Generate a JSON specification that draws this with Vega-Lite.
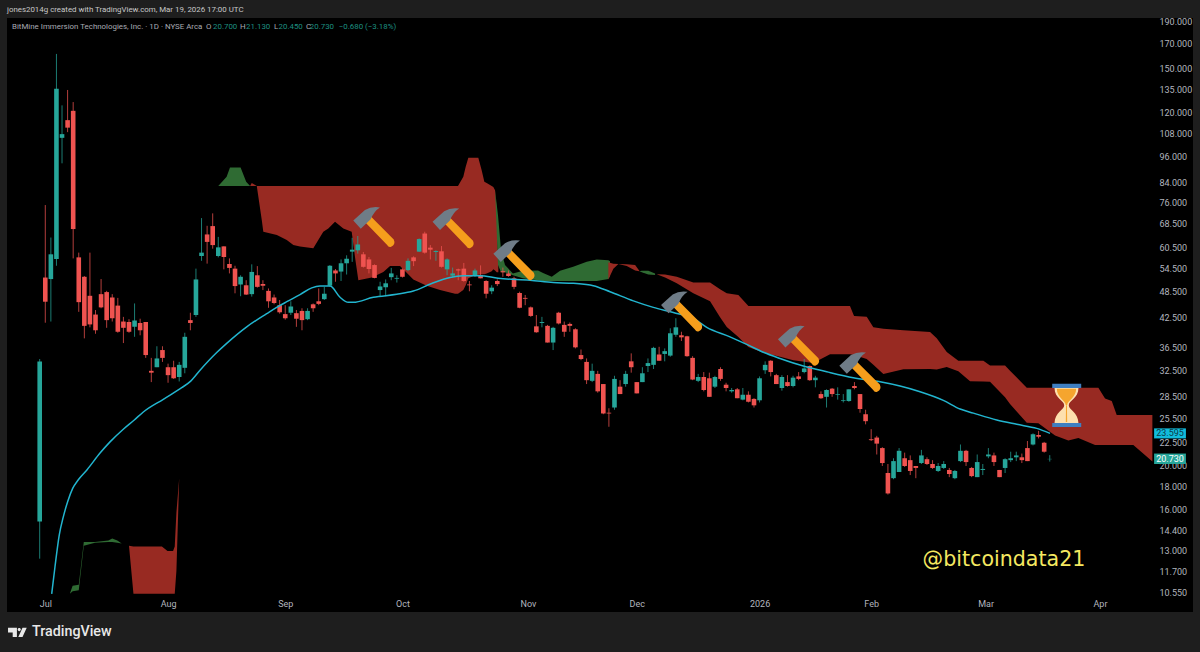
{
"$schema":"https://vega.github.io/schema/vega-lite/v6.json",
"autosize":{"type":"none"},
"width":1186,"height":594,
"padding":{"left":7,"top":18,"right":7,"bottom":40},
"background":"#1e1e1e",
"view":{"fill":"#000000","stroke":null},
"datasets":{
"candles":[
{"bar":0,"open":15.1,"high":34.4,"low":12.5,"close":33.95},
{"bar":1,"open":52.0,"high":75.1,"low":41.35,"close":46.0},
{"bar":2,"open":51.6,"high":63.7,"low":41.6,"close":58.5},
{"bar":3,"open":57.1,"high":161.6,"low":55.2,"close":135.5},
{"bar":4,"open":105.6,"high":124.5,"low":92.8,"close":107.6},
{"bar":5,"open":115.5,"high":134.6,"low":108.7,"close":111.2},
{"bar":6,"open":121.1,"high":126.6,"low":57.3,"close":66.5},
{"bar":7,"open":57.6,"high":59.0,"low":43.7,"close":45.9},
{"bar":8,"open":52.2,"high":52.4,"low":38.2,"close":40.7},
{"bar":9,"open":47.4,"high":59.0,"low":40.4,"close":41.0},
{"bar":10,"open":43.1,"high":44.1,"low":39.1,"close":39.8},
{"bar":11,"open":47.8,"high":51.6,"low":44.5,"close":44.7},
{"bar":12,"open":48.3,"high":48.6,"low":40.3,"close":41.9},
{"bar":13,"open":47.0,"high":47.8,"low":41.6,"close":42.3},
{"bar":14,"open":45.1,"high":46.9,"low":39.3,"close":39.5},
{"bar":15,"open":41.6,"high":42.6,"low":37.3,"close":40.3},
{"bar":16,"open":41.5,"high":42.1,"low":39.3,"close":39.5},
{"bar":17,"open":40.5,"high":45.6,"low":38.5,"close":41.8},
{"bar":18,"open":41.3,"high":42.2,"low":38.8,"close":39.8},
{"bar":19,"open":41.5,"high":41.5,"low":34.6,"close":35.1},
{"bar":20,"open":32.4,"high":34.6,"low":30.6,"close":32.1},
{"bar":21,"open":33.0,"high":36.7,"low":33.0,"close":34.5},
{"bar":22,"open":36.0,"high":36.7,"low":33.9,"close":34.6},
{"bar":23,"open":33.0,"high":33.6,"low":30.5,"close":31.7},
{"bar":24,"open":33.0,"high":34.1,"low":31.1,"close":31.2},
{"bar":25,"open":31.4,"high":33.9,"low":30.7,"close":33.4},
{"bar":26,"open":32.9,"high":39.3,"low":32.0,"close":38.5},
{"bar":27,"open":41.9,"high":43.5,"low":39.8,"close":41.3},
{"bar":28,"open":43.0,"high":54.4,"low":42.6,"close":51.5},
{"bar":29,"open":58.0,"high":70.3,"low":56.6,"close":59.0},
{"bar":30,"open":64.7,"high":67.6,"low":55.8,"close":62.3},
{"bar":31,"open":67.5,"high":72.0,"low":60.2,"close":61.3},
{"bar":32,"open":58.0,"high":63.9,"low":57.6,"close":60.6},
{"bar":33,"open":60.9,"high":60.9,"low":54.2,"close":57.7},
{"bar":34,"open":55.7,"high":57.3,"low":53.1,"close":54.6},
{"bar":35,"open":54.4,"high":55.2,"low":48.0,"close":49.8},
{"bar":36,"open":50.2,"high":52.6,"low":47.3,"close":52.2},
{"bar":37,"open":50.0,"high":51.3,"low":47.6,"close":47.7},
{"bar":38,"open":47.8,"high":55.6,"low":47.2,"close":53.5},
{"bar":39,"open":52.6,"high":55.1,"low":49.4,"close":49.6},
{"bar":40,"open":50.3,"high":51.3,"low":48.8,"close":49.9},
{"bar":41,"open":48.6,"high":49.2,"low":44.6,"close":46.1},
{"bar":42,"open":47.0,"high":47.7,"low":45.4,"close":45.7},
{"bar":43,"open":45.2,"high":46.4,"low":43.3,"close":43.6},
{"bar":44,"open":43.2,"high":45.2,"low":42.0,"close":42.3},
{"bar":45,"open":43.5,"high":46.1,"low":43.0,"close":44.9},
{"bar":46,"open":43.4,"high":44.1,"low":40.5,"close":42.2},
{"bar":47,"open":43.9,"high":44.5,"low":39.8,"close":41.9},
{"bar":48,"open":42.1,"high":44.5,"low":41.9,"close":43.9},
{"bar":49,"open":45.4,"high":45.6,"low":43.7,"close":44.5},
{"bar":50,"open":46.1,"high":49.2,"low":45.2,"close":45.5},
{"bar":51,"open":46.6,"high":49.6,"low":46.4,"close":47.9},
{"bar":52,"open":49.9,"high":55.4,"low":49.6,"close":55.2},
{"bar":53,"open":53.9,"high":54.3,"low":50.9,"close":53.1},
{"bar":54,"open":53.6,"high":57.0,"low":51.1,"close":55.9},
{"bar":55,"open":55.9,"high":58.2,"low":52.8,"close":57.2},
{"bar":56,"open":59.3,"high":63.6,"low":56.3,"close":59.9},
{"bar":57,"open":59.7,"high":64.2,"low":58.7,"close":61.5},
{"bar":58,"open":58.5,"high":59.2,"low":54.7,"close":54.9},
{"bar":59,"open":57.0,"high":57.7,"low":53.1,"close":54.3},
{"bar":60,"open":55.4,"high":55.6,"low":51.8,"close":51.9},
{"bar":61,"open":48.8,"high":50.9,"low":47.3,"close":49.7},
{"bar":62,"open":49.5,"high":51.5,"low":47.3,"close":50.5},
{"bar":63,"open":52.1,"high":54.6,"low":51.3,"close":53.1},
{"bar":64,"open":51.7,"high":52.6,"low":50.7,"close":51.9},
{"bar":65,"open":54.2,"high":54.5,"low":52.0,"close":52.2},
{"bar":66,"open":54.0,"high":57.3,"low":53.7,"close":56.6},
{"bar":67,"open":57.6,"high":57.9,"low":55.1,"close":56.5},
{"bar":68,"open":59.3,"high":63.4,"low":59.2,"close":63.2},
{"bar":69,"open":65.0,"high":65.6,"low":58.7,"close":59.0},
{"bar":70,"open":60.5,"high":61.3,"low":57.0,"close":59.9},
{"bar":71,"open":59.2,"high":59.7,"low":56.6,"close":59.5},
{"bar":72,"open":59.4,"high":61.0,"low":54.7,"close":54.9},
{"bar":73,"open":54.2,"high":57.3,"low":52.6,"close":57.0},
{"bar":74,"open":52.5,"high":54.7,"low":52.0,"close":53.1},
{"bar":75,"open":54.2,"high":54.4,"low":51.3,"close":53.9},
{"bar":76,"open":54.4,"high":56.0,"low":50.9,"close":51.1},
{"bar":77,"open":50.2,"high":51.1,"low":48.5,"close":50.0},
{"bar":78,"open":52.5,"high":54.4,"low":52.2,"close":53.9},
{"bar":79,"open":52.7,"high":55.3,"low":51.8,"close":51.8},
{"bar":80,"open":51.1,"high":51.3,"low":46.8,"close":47.9},
{"bar":81,"open":48.5,"high":50.0,"low":47.8,"close":49.4},
{"bar":82,"open":51.1,"high":51.5,"low":49.8,"close":50.3},
{"bar":83,"open":53.7,"high":54.7,"low":52.2,"close":53.4},
{"bar":84,"open":53.1,"high":53.9,"low":52.2,"close":52.4},
{"bar":85,"open":51.8,"high":52.2,"low":49.0,"close":49.6},
{"bar":86,"open":48.1,"high":48.4,"low":44.5,"close":44.6},
{"bar":87,"open":46.9,"high":47.6,"low":45.2,"close":46.7},
{"bar":88,"open":44.7,"high":44.9,"low":42.6,"close":42.8},
{"bar":89,"open":40.6,"high":43.0,"low":39.3,"close":39.4},
{"bar":90,"open":41.3,"high":42.6,"low":40.4,"close":41.5},
{"bar":91,"open":40.7,"high":40.9,"low":37.4,"close":37.4},
{"bar":92,"open":37.4,"high":40.5,"low":36.0,"close":40.3},
{"bar":93,"open":43.5,"high":43.7,"low":41.0,"close":41.2},
{"bar":94,"open":40.9,"high":41.6,"low":38.5,"close":39.5},
{"bar":95,"open":41.1,"high":41.4,"low":39.5,"close":40.7},
{"bar":96,"open":40.0,"high":40.2,"low":36.3,"close":36.5},
{"bar":97,"open":35.1,"high":36.1,"low":34.2,"close":34.4},
{"bar":98,"open":33.9,"high":34.5,"low":30.3,"close":30.9},
{"bar":99,"open":30.8,"high":33.6,"low":30.6,"close":32.4},
{"bar":100,"open":31.9,"high":32.4,"low":29.0,"close":29.2},
{"bar":101,"open":30.3,"high":30.3,"low":26.0,"close":26.1},
{"bar":102,"open":26.2,"high":26.8,"low":24.4,"close":26.1},
{"bar":103,"open":26.9,"high":31.6,"low":26.6,"close":31.1},
{"bar":104,"open":29.9,"high":30.9,"low":28.8,"close":28.8},
{"bar":105,"open":30.3,"high":32.4,"low":29.9,"close":31.9},
{"bar":106,"open":34.0,"high":35.4,"low":32.1,"close":33.0},
{"bar":107,"open":30.6,"high":30.6,"low":28.9,"close":28.9},
{"bar":108,"open":30.6,"high":33.0,"low":30.6,"close":32.0},
{"bar":109,"open":33.2,"high":34.5,"low":32.2,"close":33.7},
{"bar":110,"open":33.4,"high":36.6,"low":32.7,"close":36.4},
{"bar":111,"open":35.2,"high":36.6,"low":34.1,"close":34.1},
{"bar":112,"open":35.3,"high":36.3,"low":34.0,"close":35.8},
{"bar":113,"open":35.0,"high":40.2,"low":34.8,"close":39.2},
{"bar":114,"open":38.9,"high":42.3,"low":38.5,"close":40.4},
{"bar":115,"open":38.8,"high":39.5,"low":37.7,"close":38.4},
{"bar":116,"open":38.6,"high":38.7,"low":34.8,"close":34.9},
{"bar":117,"open":34.6,"high":34.9,"low":30.9,"close":31.0},
{"bar":118,"open":30.8,"high":31.9,"low":30.6,"close":31.4},
{"bar":119,"open":31.4,"high":32.2,"low":29.2,"close":29.4},
{"bar":120,"open":31.2,"high":32.1,"low":28.4,"close":28.4},
{"bar":121,"open":29.9,"high":31.6,"low":29.7,"close":31.4},
{"bar":122,"open":32.7,"high":33.0,"low":30.8,"close":31.1},
{"bar":123,"open":30.2,"high":30.5,"low":29.2,"close":29.7},
{"bar":124,"open":29.2,"high":29.7,"low":29.0,"close":29.4},
{"bar":125,"open":29.5,"high":29.7,"low":28.2,"close":28.2},
{"bar":126,"open":28.0,"high":29.7,"low":27.9,"close":28.7},
{"bar":127,"open":28.7,"high":29.2,"low":27.6,"close":27.7},
{"bar":128,"open":28.1,"high":28.2,"low":26.9,"close":27.2},
{"bar":129,"open":27.9,"high":31.5,"low":27.6,"close":31.2},
{"bar":130,"open":32.5,"high":34.0,"low":31.9,"close":33.4},
{"bar":131,"open":34.1,"high":34.2,"low":31.5,"close":32.2},
{"bar":132,"open":31.7,"high":31.9,"low":30.3,"close":30.3},
{"bar":133,"open":29.7,"high":31.7,"low":29.3,"close":31.4},
{"bar":134,"open":30.6,"high":31.7,"low":29.9,"close":30.0},
{"bar":135,"open":30.0,"high":31.6,"low":29.8,"close":31.3},
{"bar":136,"open":31.5,"high":32.2,"low":30.9,"close":31.1},
{"bar":137,"open":32.2,"high":34.4,"low":32.0,"close":32.8},
{"bar":138,"open":33.2,"high":33.3,"low":30.8,"close":30.9},
{"bar":139,"open":30.9,"high":31.6,"low":29.8,"close":31.3},
{"bar":140,"open":28.8,"high":29.2,"low":28.1,"close":28.2},
{"bar":141,"open":28.4,"high":29.5,"low":26.9,"close":29.4},
{"bar":142,"open":29.6,"high":29.7,"low":28.4,"close":28.8},
{"bar":143,"open":28.7,"high":29.8,"low":28.0,"close":28.8},
{"bar":144,"open":27.8,"high":28.8,"low":27.6,"close":27.9},
{"bar":145,"open":27.8,"high":29.5,"low":27.7,"close":29.5},
{"bar":146,"open":30.0,"high":30.6,"low":29.5,"close":29.7},
{"bar":147,"open":28.8,"high":28.8,"low":26.2,"close":26.7},
{"bar":148,"open":26.0,"high":26.6,"low":24.7,"close":25.1},
{"bar":149,"open":22.9,"high":24.1,"low":22.7,"close":22.8},
{"bar":150,"open":23.1,"high":23.3,"low":21.2,"close":22.4},
{"bar":151,"open":21.9,"high":22.0,"low":20.0,"close":20.3},
{"bar":152,"open":19.3,"high":20.2,"low":17.3,"close":17.4},
{"bar":153,"open":18.8,"high":20.8,"low":18.7,"close":20.5},
{"bar":154,"open":19.4,"high":21.9,"low":19.4,"close":21.6},
{"bar":155,"open":20.8,"high":21.4,"low":19.9,"close":20.0},
{"bar":156,"open":20.6,"high":21.1,"low":19.1,"close":19.5},
{"bar":157,"open":20.0,"high":20.0,"low":18.8,"close":19.8},
{"bar":158,"open":20.3,"high":21.7,"low":20.2,"close":21.1},
{"bar":159,"open":20.7,"high":20.9,"low":20.1,"close":20.2},
{"bar":160,"open":20.2,"high":20.6,"low":19.7,"close":19.8},
{"bar":161,"open":19.5,"high":20.3,"low":19.4,"close":20.0},
{"bar":162,"open":19.8,"high":20.5,"low":19.7,"close":20.2},
{"bar":163,"open":19.6,"high":19.8,"low":18.9,"close":19.2},
{"bar":164,"open":18.8,"high":19.6,"low":18.7,"close":19.5},
{"bar":165,"open":20.5,"high":22.3,"low":20.4,"close":21.6},
{"bar":166,"open":21.6,"high":21.7,"low":20.0,"close":20.4},
{"bar":167,"open":19.8,"high":19.9,"low":18.9,"close":19.0},
{"bar":168,"open":18.9,"high":21.2,"low":18.9,"close":20.4},
{"bar":169,"open":19.6,"high":20.2,"low":19.1,"close":19.7},
{"bar":170,"open":21.0,"high":21.9,"low":20.8,"close":21.2},
{"bar":171,"open":21.1,"high":21.4,"low":20.0,"close":20.4},
{"bar":172,"open":19.6,"high":19.6,"low":18.9,"close":18.9},
{"bar":173,"open":19.8,"high":20.8,"low":19.3,"close":20.7},
{"bar":174,"open":20.6,"high":21.5,"low":20.4,"close":20.8},
{"bar":175,"open":20.9,"high":21.5,"low":20.5,"close":21.1},
{"bar":176,"open":20.9,"high":21.3,"low":20.3,"close":20.6},
{"bar":177,"open":21.9,"high":22.7,"low":20.5,"close":20.5},
{"bar":178,"open":22.3,"high":23.6,"low":22.2,"close":23.5},
{"bar":179,"open":23.4,"high":23.9,"low":23.0,"close":23.2},
{"bar":180,"open":22.5,"high":22.6,"low":21.4,"close":21.5},
{"bar":181,"open":20.7,"high":21.13,"low":20.45,"close":20.73}
],
"cloud":[
{"seg":"a","kumo":"up","bar":5.4,"top":10.46,"bottom":10.46},
{"seg":"a","kumo":"up","bar":5.9,"top":10.9,"bottom":10.6},
{"seg":"a","kumo":"up","bar":7.0,"top":10.95,"bottom":10.65},
{"seg":"a","kumo":"up","bar":7.9,"top":13.6,"bottom":13.35},
{"seg":"a","kumo":"up","bar":9.9,"top":13.6,"bottom":13.55},
{"seg":"a","kumo":"up","bar":12.3,"top":13.7,"bottom":13.6},
{"seg":"a","kumo":"up","bar":13.0,"top":13.85,"bottom":13.6},
{"seg":"a","kumo":"up","bar":13.9,"top":13.7,"bottom":13.55},
{"seg":"a","kumo":"up","bar":14.7,"top":13.5,"bottom":13.5},
{"seg":"b","kumo":"down","bar":16.0,"top":13.35,"bottom":13.35},
{"seg":"b","kumo":"down","bar":16.8,"top":13.3,"bottom":10.46},
{"seg":"b","kumo":"down","bar":21.9,"top":13.3,"bottom":10.46},
{"seg":"b","kumo":"down","bar":22.9,"top":13.0,"bottom":10.46},
{"seg":"b","kumo":"down","bar":23.9,"top":13.0,"bottom":10.46},
{"seg":"b","kumo":"down","bar":24.2,"top":13.3,"bottom":10.46},
{"seg":"b","kumo":"down","bar":24.5,"top":15.8,"bottom":11.75},
{"seg":"b","kumo":"down","bar":25.0,"top":18.8,"bottom":18.8},
{"seg":"c","kumo":"up","bar":32.0,"top":82.7,"bottom":82.7},
{"seg":"c","kumo":"up","bar":33.5,"top":86.7,"bottom":82.7},
{"seg":"c","kumo":"up","bar":34.1,"top":90.9,"bottom":82.7},
{"seg":"c","kumo":"up","bar":36.0,"top":90.9,"bottom":82.7},
{"seg":"c","kumo":"up","bar":37.0,"top":84.5,"bottom":82.7},
{"seg":"c","kumo":"up","bar":37.7,"top":82.7,"bottom":82.7},
{"seg":"c2","kumo":"down","bar":37.7,"top":82.7,"bottom":82.7},
{"seg":"c2","kumo":"down","bar":38.0,"top":84.0,"bottom":82.7},
{"seg":"c2","kumo":"down","bar":38.9,"top":82.7,"bottom":82.7},
{"seg":"d","kumo":"down","bar":38.9,"top":82.7,"bottom":82.7},
{"seg":"d","kumo":"down","bar":39.8,"top":82.7,"bottom":69.5},
{"seg":"d","kumo":"down","bar":40.07,"top":82.7,"bottom":65.6},
{"seg":"d","kumo":"down","bar":42.5,"top":82.7,"bottom":64.5},
{"seg":"d","kumo":"down","bar":44.27,"top":82.7,"bottom":62.9},
{"seg":"d","kumo":"down","bar":45.45,"top":82.7,"bottom":61.3},
{"seg":"d","kumo":"down","bar":46.65,"top":82.7,"bottom":60.9},
{"seg":"d","kumo":"down","bar":49.03,"top":82.7,"bottom":60.3},
{"seg":"d","kumo":"down","bar":50.82,"top":82.7,"bottom":65.6},
{"seg":"d","kumo":"down","bar":51.72,"top":82.7,"bottom":66.7},
{"seg":"d","kumo":"down","bar":52.92,"top":82.7,"bottom":69.0},
{"seg":"d","kumo":"down","bar":54.41,"top":82.7,"bottom":66.7},
{"seg":"d","kumo":"down","bar":55.91,"top":82.7,"bottom":65.6},
{"seg":"d","kumo":"down","bar":56.5,"top":82.7,"bottom":57.7},
{"seg":"d","kumo":"down","bar":57.1,"top":82.7,"bottom":51.3},
{"seg":"d","kumo":"down","bar":59.5,"top":82.7,"bottom":52.0},
{"seg":"d","kumo":"down","bar":61.58,"top":82.7,"bottom":53.5},
{"seg":"d","kumo":"down","bar":62.78,"top":82.7,"bottom":55.1},
{"seg":"d","kumo":"down","bar":64.57,"top":82.7,"bottom":55.1},
{"seg":"d","kumo":"down","bar":66.95,"top":82.7,"bottom":51.5},
{"seg":"d","kumo":"down","bar":69.35,"top":82.7,"bottom":49.9},
{"seg":"d","kumo":"down","bar":71.74,"top":82.7,"bottom":48.8},
{"seg":"d","kumo":"down","bar":74.43,"top":82.7,"bottom":47.9},
{"seg":"d","kumo":"down","bar":74.96,"top":82.7,"bottom":47.9},
{"seg":"d","kumo":"down","bar":75.91,"top":86.7,"bottom":48.8},
{"seg":"d","kumo":"down","bar":76.34,"top":91.2,"bottom":50.0},
{"seg":"d","kumo":"down","bar":76.81,"top":95.5,"bottom":51.8},
{"seg":"d","kumo":"down","bar":78.0,"top":95.5,"bottom":52.6},
{"seg":"d","kumo":"down","bar":78.6,"top":95.5,"bottom":52.75},
{"seg":"d","kumo":"down","bar":79.2,"top":89.6,"bottom":52.9},
{"seg":"d","kumo":"down","bar":79.68,"top":84.5,"bottom":52.9},
{"seg":"d","kumo":"down","bar":80.1,"top":84.0,"bottom":53.1},
{"seg":"d","kumo":"down","bar":81.0,"top":82.7,"bottom":53.7},
{"seg":"d","kumo":"down","bar":81.29,"top":82.3,"bottom":54.2},
{"seg":"d","kumo":"down","bar":81.6,"top":81.0,"bottom":53.9},
{"seg":"d","kumo":"down","bar":81.9,"top":73.1,"bottom":53.4},
{"seg":"d","kumo":"down","bar":82.08,"top":59.7,"bottom":53.4},
{"seg":"d","kumo":"down","bar":82.19,"top":54.5,"bottom":53.4},
{"seg":"e","kumo":"up","bar":81.6,"top":81.0,"bottom":81.0},
{"seg":"e","kumo":"up","bar":82.13,"top":71.2,"bottom":55.4},
{"seg":"e","kumo":"up","bar":82.67,"top":59.7,"bottom":53.4},
{"seg":"e","kumo":"up","bar":83.38,"top":55.4,"bottom":53.4},
{"seg":"e","kumo":"up","bar":84.8,"top":53.1,"bottom":52.6},
{"seg":"e","kumo":"up","bar":86.6,"top":53.8,"bottom":51.8},
{"seg":"e","kumo":"up","bar":89.3,"top":53.9,"bottom":51.3},
{"seg":"e","kumo":"up","bar":90.2,"top":53.2,"bottom":51.1},
{"seg":"e","kumo":"up","bar":91.76,"top":52.2,"bottom":51.1},
{"seg":"e","kumo":"up","bar":93.25,"top":53.8,"bottom":51.1},
{"seg":"e","kumo":"up","bar":95.6,"top":54.9,"bottom":51.1},
{"seg":"e","kumo":"up","bar":98.03,"top":56.3,"bottom":51.1},
{"seg":"e","kumo":"up","bar":99.82,"top":57.0,"bottom":51.1},
{"seg":"e","kumo":"up","bar":101.9,"top":56.8,"bottom":51.6},
{"seg":"e","kumo":"up","bar":102.2,"top":56.5,"bottom":52.4},
{"seg":"f","kumo":"down","bar":101.9,"top":56.2,"bottom":51.5},
{"seg":"f","kumo":"down","bar":102.8,"top":55.8,"bottom":54.4},
{"seg":"f","kumo":"down","bar":103.7,"top":55.7,"bottom":55.7},
{"seg":"f","kumo":"down","bar":105.2,"top":55.6,"bottom":55.1},
{"seg":"f","kumo":"down","bar":106.7,"top":55.4,"bottom":53.9},
{"seg":"f","kumo":"down","bar":107.45,"top":53.8,"bottom":53.7},
{"seg":"h","kumo":"up","bar":107.45,"top":53.7,"bottom":53.7},
{"seg":"h","kumo":"up","bar":107.9,"top":53.8,"bottom":53.4},
{"seg":"h","kumo":"up","bar":109.07,"top":53.8,"bottom":52.8},
{"seg":"h","kumo":"up","bar":110.27,"top":53.1,"bottom":52.7},
{"seg":"g","kumo":"down","bar":110.57,"top":52.9,"bottom":52.9},
{"seg":"g","kumo":"down","bar":112.07,"top":52.8,"bottom":52.0},
{"seg":"g","kumo":"down","bar":114.16,"top":52.2,"bottom":50.5},
{"seg":"g","kumo":"down","bar":117.13,"top":50.7,"bottom":48.0},
{"seg":"g","kumo":"down","bar":120.13,"top":50.7,"bottom":46.1},
{"seg":"g","kumo":"down","bar":121.92,"top":49.0,"bottom":42.5},
{"seg":"g","kumo":"down","bar":123.12,"top":48.0,"bottom":40.45},
{"seg":"g","kumo":"down","bar":125.2,"top":47.6,"bottom":38.45},
{"seg":"g","kumo":"down","bar":127.0,"top":45.0,"bottom":36.55},
{"seg":"g","kumo":"down","bar":129.68,"top":45.0,"bottom":35.5},
{"seg":"g","kumo":"down","bar":132.67,"top":45.0,"bottom":34.8},
{"seg":"g","kumo":"down","bar":135.05,"top":45.0,"bottom":34.2},
{"seg":"g","kumo":"down","bar":138.64,"top":45.0,"bottom":33.7},
{"seg":"g","kumo":"down","bar":141.63,"top":45.0,"bottom":35.25},
{"seg":"g","kumo":"down","bar":145.2,"top":45.0,"bottom":35.25},
{"seg":"g","kumo":"down","bar":145.93,"top":42.8,"bottom":35.1},
{"seg":"g","kumo":"down","bar":148.2,"top":42.6,"bottom":34.4},
{"seg":"g","kumo":"down","bar":149.39,"top":40.4,"bottom":33.4},
{"seg":"g","kumo":"down","bar":151.18,"top":40.1,"bottom":31.9},
{"seg":"g","kumo":"down","bar":154.77,"top":39.8,"bottom":32.65},
{"seg":"g","kumo":"down","bar":159.55,"top":39.45,"bottom":32.7},
{"seg":"g","kumo":"down","bar":160.75,"top":38.2,"bottom":32.6},
{"seg":"g","kumo":"down","bar":162.54,"top":35.65,"bottom":33.05},
{"seg":"g","kumo":"down","bar":164.62,"top":34.1,"bottom":32.35},
{"seg":"g","kumo":"down","bar":166.72,"top":34.1,"bottom":30.75},
{"seg":"g","kumo":"down","bar":169.1,"top":34.1,"bottom":30.7},
{"seg":"g","kumo":"down","bar":170.3,"top":33.3,"bottom":30.65},
{"seg":"g","kumo":"down","bar":172.99,"top":33.3,"bottom":28.35},
{"seg":"g","kumo":"down","bar":173.88,"top":32.4,"bottom":27.4},
{"seg":"g","kumo":"down","bar":176.88,"top":29.75,"bottom":24.9},
{"seg":"g","kumo":"down","bar":178.96,"top":29.75,"bottom":24.85},
{"seg":"g","kumo":"down","bar":181.95,"top":29.75,"bottom":23.35},
{"seg":"g","kumo":"down","bar":184.33,"top":29.75,"bottom":22.75},
{"seg":"g","kumo":"down","bar":186.13,"top":29.75,"bottom":23.05},
{"seg":"g","kumo":"down","bar":189.12,"top":29.75,"bottom":22.25},
{"seg":"g","kumo":"down","bar":189.71,"top":29.75,"bottom":22.25},
{"seg":"g","kumo":"down","bar":190.91,"top":28.15,"bottom":22.25},
{"seg":"g","kumo":"down","bar":192.11,"top":27.8,"bottom":22.25},
{"seg":"g","kumo":"down","bar":193.0,"top":25.9,"bottom":22.25},
{"seg":"g","kumo":"down","bar":195.98,"top":25.9,"bottom":22.25},
{"seg":"g","kumo":"down","bar":199.39,"top":25.9,"bottom":20.45}
],
"ma":[
{"bar":2.15,"price":10.46},{"bar":2.74,"price":12.0},{"bar":3.51,"price":14.1},{"bar":4.23,"price":15.45},
{"bar":5.02,"price":16.7},{"bar":5.91,"price":17.85},{"bar":6.92,"price":18.65},{"bar":8.53,"price":19.65},
{"bar":10.81,"price":21.35},{"bar":12.6,"price":22.6},{"bar":14.98,"price":24.1},{"bar":16.95,"price":25.25},
{"bar":18.57,"price":26.3},{"bar":22.15,"price":28.05},{"bar":25.45,"price":29.75},{"bar":27.06,"price":30.75},
{"bar":28.73,"price":32.5},{"bar":31.72,"price":35.55},{"bar":33.51,"price":37.25},{"bar":37.1,"price":40.5},
{"bar":40.68,"price":43.3},{"bar":42.47,"price":44.7},{"bar":44.27,"price":46.0},{"bar":46.65,"price":47.7},
{"bar":48.75,"price":49.35},{"bar":50.23,"price":49.8},{"bar":52.03,"price":49.8},{"bar":53.82,"price":47.05},
{"bar":55.3,"price":45.85},{"bar":56.2,"price":45.85},{"bar":59.78,"price":47.05},{"bar":63.98,"price":47.75},
{"bar":66.95,"price":48.55},{"bar":70.25,"price":50.45},{"bar":73.53,"price":52.0},{"bar":75.91,"price":52.45},
{"bar":78.91,"price":52.5},{"bar":82.13,"price":51.8},{"bar":87.87,"price":51.3},{"bar":92.04,"price":50.7},
{"bar":95.63,"price":50.5},{"bar":99.2,"price":49.9},{"bar":102.2,"price":48.4},{"bar":106.38,"price":46.2},
{"bar":109.96,"price":44.7},{"bar":113.55,"price":43.55},{"bar":117.13,"price":42.25},{"bar":119.53,"price":40.4},
{"bar":123.7,"price":38.5},{"bar":126.7,"price":37.05},{"bar":129.68,"price":35.6},{"bar":132.67,"price":34.5},
{"bar":136.85,"price":33.2},{"bar":141.04,"price":32.25},{"bar":145.8,"price":31.3},{"bar":150.6,"price":30.65},
{"bar":154.17,"price":30.0},{"bar":157.76,"price":29.15},{"bar":161.93,"price":27.9},{"bar":164.93,"price":26.7},
{"bar":167.31,"price":26.15},{"bar":171.5,"price":25.25},{"bar":175.09,"price":24.7},{"bar":178.67,"price":24.2},
{"bar":181.05,"price":23.6}
],
"hammers":[
{"bar":59.9,"price":67.2},{"bar":74.1,"price":66.8},{"bar":85.0,"price":56.8},
{"bar":115.05,"price":43.8},{"bar":136.0,"price":36.8},{"bar":147.0,"price":32.2}
],
"hourglass":[{"bar":184.0,"price":27.2}],
"logo":[{"bar":-4.0,"price":8.6}],
"head":[
{"text":"jones2014g created with TradingView.com, Mar 19, 2026 17:00 UTC","bar":-5.86,"price":201.9}
],
"legendGrey":[
{"text":"BitMine Immersion Technologies, Inc. · 1D · NYSE Arca","bar":-4.96,"price":185.3},
{"text":"O","bar":29.8,"price":185.3},
{"text":"H","bar":35.9,"price":185.3},
{"text":"L","bar":42.0,"price":185.3},
{"text":"C","bar":47.7,"price":185.3}
],
"legendTeal":[
{"text":"20.700","bar":31.06,"price":185.3},
{"text":"21.130","bar":36.97,"price":185.3},
{"text":"20.450","bar":42.8,"price":185.3},
{"text":"20.730","bar":48.4,"price":185.3},
{"text":"−0.680","bar":53.6,"price":185.3},
{"text":"(−3.18%)","bar":58.3,"price":185.3}
],
"tags":[
{"text":"23.595","kind":"ma","bar":199.7,"bar2":205.4,"mid":202.55,"lo":23.0,"hi":24.2,"price":23.595},
{"text":"20.730","kind":"last","bar":199.7,"bar2":205.4,"mid":202.55,"lo":20.2,"hi":21.3,"price":20.73}
]
},
"encoding":{
"x":{"field":"bar","type":"quantitative","title":null,
"scale":{"domain":[-5.86,206.67],"nice":false,"zero":false,"padding":0},
"axis":{"values":[1,23,44,65,87.5,107,129,149,169.5,190],
"labelExpr":"['Jul','Aug','Sep','Oct','Nov','Dec','2026','Feb','Mar','Apr'][indexof([1,23,44,65,87.5,107,129,149,169.5,190],datum.value)]",
"domain":false,"ticks":false,"grid":false,"offset":-9,"labelPadding":0,"labelBaseline":"middle","labelColor":"#b2b5be","labelFont":"Roboto","labelFontSize":9,"labelOverlap":false,"labelFlush":false}}
},
"layer":[
{"data":{"name":"cloud"},"mark":{"type":"area","opacity":1},
"encoding":{
"y":{"field":"top","type":"quantitative","title":null,
"scale":{"type":"log","domain":[9.538,193.89],"nice":false,"zero":false,"padding":0},
"axis":{"orient":"right","offset":-34,"values":[190,170,150,135,120,108,96,84,76,68.5,60.5,54.5,48.5,42.5,36.5,32.5,28.5,25.5,22.5,20,18,16,14.4,13,11.7,10.55],
"format":".3f","domain":false,"ticks":false,"grid":false,"labelPadding":0,"labelAlign":"left","labelColor":"#b2b5be","labelFont":"Roboto","labelFontSize":9,"labelOverlap":false,"labelFlush":false}},
"y2":{"field":"bottom"},
"detail":{"field":"seg"},
"color":{"field":"kumo","type":"nominal","legend":null,"scale":{"domain":["up","down"],"range":["#2f6b33","#982a22"]}}}},
{"data":{"name":"candles"},"mark":{"type":"rule","strokeWidth":1,"opacity":0.75},
"encoding":{
"y":{"field":"low","type":"quantitative"},"y2":{"field":"high"},
"color":{"condition":{"test":"datum.close>=datum.open","value":"#26a69a"},"value":"#ef5350"}}},
{"data":{"name":"candles"},"mark":{"type":"bar","size":4.6,"orient":"vertical"},
"encoding":{
"y":{"field":"open","type":"quantitative"},"y2":{"field":"close"},
"color":{"condition":{"test":"datum.close>=datum.open","value":"#26a69a"},"value":"#ef5350"}}},
{"data":{"name":"ma"},"mark":{"type":"line","color":"#22b5cf","strokeWidth":1.5,"interpolate":"monotone"},
"encoding":{"y":{"field":"price","type":"quantitative"}}},
{"data":{"name":"hammers"},"mark":{"type":"point","filled":true,"opacity":1,"size":1936,"color":"#f59e1c",
"shape":"M-0.4,-0.22 L-0.13,-0.46 L0.9,0.57 Q1,0.8 0.78,0.9 Q0.66,0.94 0.6,0.82 Z"},
"encoding":{"y":{"field":"price","type":"quantitative"}}},
{"data":{"name":"hammers"},"mark":{"type":"point","filled":true,"opacity":1,"size":1936,"color":"#6f7c87",
"shape":"M-0.94,-0.29 L-0.41,-0.77 Q-0.11,-0.95 0.27,-0.89 Q0,-0.72 -0.15,-0.35 L-0.6,0.08 Z"},
"encoding":{"y":{"field":"price","type":"quantitative"}}},
{"data":{"name":"hourglass"},"mark":{"type":"point","filled":true,"opacity":1,"size":2116,"color":"#fde0ae",
"shape":"M-0.52,-0.75 L0.52,-0.75 C0.52,-0.3 0.1,-0.2 0.1,0 C0.1,0.2 0.5,0.3 0.52,0.77 L-0.52,0.77 C-0.5,0.3 -0.1,0.2 -0.1,0 C-0.1,-0.2 -0.52,-0.3 -0.52,-0.75 Z"},
"encoding":{"y":{"field":"price","type":"quantitative"}}},
{"data":{"name":"hourglass"},"mark":{"type":"point","filled":true,"opacity":1,"size":2116,"color":"#f5a52e",
"shape":"M-0.42,-0.72 L0.42,-0.72 C0.42,-0.35 0.05,-0.2 0.03,-0.02 L-0.03,-0.02 C-0.05,-0.2 -0.42,-0.35 -0.42,-0.72 Z M-0.02,0 L0.02,0 L0.03,0.72 L-0.03,0.72 Z"},
"encoding":{"y":{"field":"price","type":"quantitative"}}},
{"data":{"name":"hourglass"},"mark":{"type":"point","filled":true,"opacity":1,"size":2116,"color":"#3f7fc1",
"shape":"M-0.62,-0.94 L0.64,-0.94 L0.64,-0.75 L-0.62,-0.75 Z M-0.62,0.77 L0.64,0.77 L0.64,0.94 L-0.62,0.94 Z"},
"encoding":{"y":{"field":"price","type":"quantitative"}}},
{"data":{"name":"tags"},"mark":{"type":"rect"},
"encoding":{
"x":{"field":"bar","type":"quantitative"},"x2":{"field":"bar2"},
"y":{"field":"lo","type":"quantitative"},"y2":{"field":"hi"},
"color":{"condition":{"test":"datum.kind=='ma'","value":"#11bcdc"},"value":"#26a69a"}}},
{"data":{"name":"tags"},"mark":{"type":"text","font":"Roboto","fontSize":9,"align":"center","baseline":"middle"},
"encoding":{
"x":{"field":"mid","type":"quantitative"},
"y":{"field":"price","type":"quantitative"},
"text":{"field":"text"},
"color":{"condition":{"test":"datum.kind=='ma'","value":"#0c3a46"},"value":"#ffffff"}}},
{"data":{"name":"head"},"mark":{"type":"text","font":"Roboto","fontSize":7.9,"align":"left","baseline":"middle","color":"#c8c8c8"},
"encoding":{"y":{"field":"price","type":"quantitative"},"text":{"field":"text"}}},
{"data":{"name":"legendGrey"},"mark":{"type":"text","font":"Roboto","fontSize":7.9,"align":"left","baseline":"middle","color":"#a8abb3"},
"encoding":{"y":{"field":"price","type":"quantitative"},"text":{"field":"text"}}},
{"data":{"name":"legendTeal"},"mark":{"type":"text","font":"Roboto","fontSize":7.9,"align":"left","baseline":"middle","color":"#1d8f80"},
"encoding":{"y":{"field":"price","type":"quantitative"},"text":{"field":"text"}}},
{"data":{"values":[{"text":"@bitcoindata21","bar":172.8,"price":12.4}]},"mark":{"type":"text","font":"DejaVu Sans","fontSize":20.6,"align":"center","baseline":"middle","color":"#f5e960"},
"encoding":{"y":{"field":"price","type":"quantitative"},"text":{"field":"text"}}},
{"data":{"name":"logo"},"mark":{"type":"point","filled":true,"opacity":1,"size":350,"color":"#e8e8e8",
"shape":"M-1,-0.5 L-0.05,-0.5 L-0.05,0.5 L-0.5,0.5 L-0.5,0 L-1,0 Z M0.03,-0.3 A0.17,0.17 0 1 1 0.37,-0.3 A0.17,0.17 0 1 1 0.03,-0.3 Z M0.55,-0.5 L1,-0.5 L0.55,0.5 L0.1,0.5 Z"},
"encoding":{"y":{"field":"price","type":"quantitative"}}},
{"data":{"values":[{"text":"TradingView","bar":-1.38,"price":8.6}]},"mark":{"type":"text","font":"Roboto","fontSize":14.3,"fontWeight":500,"align":"left","baseline":"middle","color":"#e8e8e8"},
"encoding":{"y":{"field":"price","type":"quantitative"},"text":{"field":"text"}}}
]
}
